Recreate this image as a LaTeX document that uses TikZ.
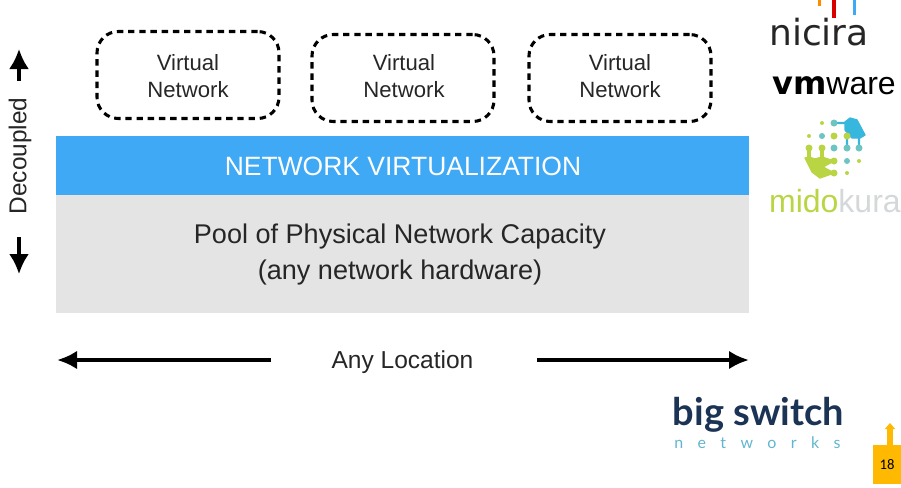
\documentclass[tikz,border=0pt]{standalone}
\usepackage{fontspec}
\setmainfont{Liberation Sans}
\newfontfamily\logofont{DejaVu Sans}
\newfontfamily\logoalt{Lato}
\newfontfamily\pagefont{Carlito}
\usetikzlibrary{arrows.meta}
\definecolor{netblue}{HTML}{3FA9F5}
\definecolor{poolgrey}{HTML}{E4E4E4}
\definecolor{inktext}{HTML}{262626}
\definecolor{tabgold}{HTML}{FFB900}
\definecolor{midogreen}{HTML}{B9D544}
\definecolor{midoblue}{HTML}{38B7DE}
\definecolor{midoteal}{HTML}{6CC5C0}
\definecolor{midogrey}{HTML}{D5D8DA}
\definecolor{bsnavy}{HTML}{1B3354}
\definecolor{bsblue}{HTML}{62B5CF}
\tikzset{
  x=0.75pt,y=-0.75pt,
  vnet/.style={draw=black,line width=2.3pt,dash pattern=on 4.8pt off 3.6pt,rounded corners=16pt,inner sep=0pt,minimum width=182*0.75pt,minimum height=87*0.75pt},
  vtext/.style={align=center,font=\fontsize{16.6}{20.5}\selectfont,text=inktext,inner sep=0pt},
  bigarrow/.style={line width=3pt,-{Latex[length=15pt,width=14pt]}},
  vertarrow/.style={line width=2.5pt,-{Latex[length=15pt,width=15pt]}}
}
\begin{document}
\begin{tikzpicture}
\useasboundingbox (0,0) rectangle (901,487);
% layers
\node[fill=netblue,minimum width=693*0.75pt,minimum height=59*0.75pt,inner sep=0pt] (virt) at (402.5,165.5) {};
\node[text=white,font=\fontsize{19.85}{24}\selectfont,inner sep=0pt] (virtlabel) at (403,166) {NETWORK VIRTUALIZATION};
\node[fill=poolgrey,minimum width=693*0.75pt,minimum height=118*0.75pt,inner sep=0pt] (pool) at (402.5,254) {};
\node[align=center,text=inktext,font=\fontsize{20.3}{27}\selectfont,inner sep=0pt] (poollabel) at (400,254.5) {Pool of Physical Network Capacity\\(any network hardware)};
% virtual networks
\node[vnet] (v1) at (188,75) {};
\node[vnet] (v2) at (403,78) {};
\node[vnet] (v3) at (620,78) {};
\node[vtext] (v1t) at (188,76) {Virtual\\Network};
\node[vtext] (v2t) at (404,76) {Virtual\\Network};
\node[vtext] (v3t) at (620,76) {Virtual\\Network};
% decoupled
\node[rotate=90,text=inktext,font=\fontsize{18.3}{20}\selectfont,inner sep=0pt] (dec) at (20,156) {Decoupled};
\coordinate (dt1) at (19,81); \coordinate (dt2) at (19,49);
\coordinate (db1) at (19,237); \coordinate (db2) at (19,274);
\draw[vertarrow] (dt1) -- (dt2);
\draw[vertarrow] (db1) -- (db2);
% any location
\node[text=inktext,font=\fontsize{18.4}{20}\selectfont,inner sep=0pt] (loc) at (402.5,362) {Any Location};
\coordinate (la) at (271,360); \coordinate (lb) at (57,360);
\coordinate (ra) at (537,360); \coordinate (rb) at (749,360);
\draw[bigarrow] (la) -- (lb);
\draw[bigarrow] (ra) -- (rb);
% nicira
\fill[orange!90!yellow] (817.5,0) rectangle (821,6);
\fill[red!85!black] (832,0) rectangle (835.5,18);
\fill[netblue] (852.5,0) rectangle (856,15);
\node[font=\logofont\fontsize{27}{28}\selectfont,text=black!85,inner sep=0pt,anchor=base] (nic) at (819,45.5) {nicira};
% vmware
\node[font=\fontsize{24}{26}\selectfont,text=black,inner sep=0pt,anchor=base] (vm) at (834,94.5) {{\logofont\bfseries vm}ware};
% midokura logo
\fill[midogreen,draw=midogreen,line width=1pt,line join=round] (805,158) -- (809,157) -- (815,159) -- (822,157) -- (834,161) -- (823,167) -- (834,173) -- (820,178) -- (812,172) -- cycle;
\draw[midogreen,line width=2.4pt] (809,148) -- (809,158) (822,148) -- (822,158);
\fill[midoblue,draw=midoblue,line width=1pt,line join=round] (845,122) -- (850,118) -- (857,120) -- (865,135) -- (860,138) -- (852,138) -- (845,130) -- cycle;
\draw[midoblue,line width=1.6pt] (834,123) -- (846,123) (847,136) -- (852,131) (859,148) -- (859,136) (847,148) -- (847,136);
\foreach \x/\y/\c/\s in {822/123/midogreen/4,834/123/midoteal/7,809/136/midogreen/4,822/136/midoteal/6,834/136/midogreen/7,847/136/midogreen/7,
  809/148/midogreen/7,822/148/midogreen/7,834/148/midoteal/7,847/148/midoteal/7,859/148/midoteal/7,
  834/161/midogreen/7,847/161/midoteal/6,859/161/midogreen/4,834/173/midogreen/7,847/173/midogreen/4}
  {\fill[\c] (\x,\y) circle (\s*0.375pt);}
\node[font=\fontsize{24}{26}\selectfont,inner sep=0pt,anchor=base east] (mido) at (901,212) {\textcolor{midogreen}{mido}\textcolor{midogrey}{kura}};
% big switch
\node[font=\logoalt\bfseries\fontsize{28.5}{30}\selectfont,text=bsnavy,inner sep=0pt,anchor=base] (bs) at (758.5,425) {big switch};
\node[font=\logoalt\fontsize{12}{16}\selectfont,text=bsblue,inner sep=0pt,anchor=base west] (bn) at (674,448) {\addfontfeature{LetterSpace=90}networks};
% page tab
\node[fill=tabgold,minimum width=28*0.75pt,minimum height=39*0.75pt,inner sep=0pt,font=\pagefont\fontsize{11}{12}\selectfont] (tab) at (887,464.5) {18};
\coordinate (tabtip) at (890,423);
\draw[tabgold,line width=4pt,-{Triangle[length=4.5pt,width=7.5pt]}] (tab.north -| tabtip) -- (tabtip);
\end{tikzpicture}
\end{document}
